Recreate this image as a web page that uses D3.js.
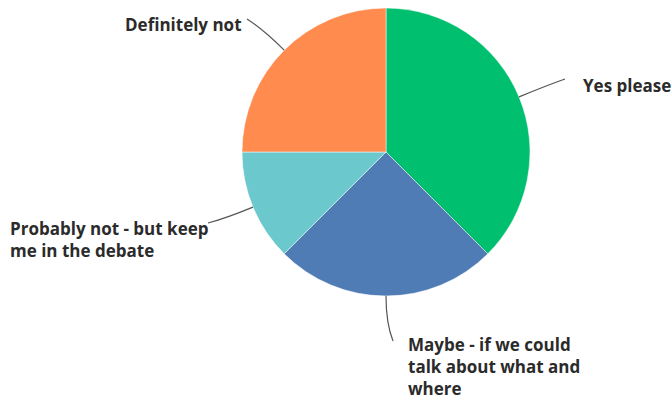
<!DOCTYPE html>
<html>
<head>
<meta charset="utf-8">
<script src="https://cdn.jsdelivr.net/npm/d3@7"></script>
<style>
  body { margin: 0; background: #fff; }
  .pie-label { font-family: "Open Sans", Roboto, sans-serif; font-weight: 700; font-size: 17px; fill: #2b2b2b; }
  .leader { fill: none; stroke: #555; stroke-width: 1.2; }
</style>
</head>
<body>
<div id="chart"></div>
<script>
// answers, clockwise from 12 o'clock
const categories = [
  'Yes please',
  'Maybe - if we could talk about what and where',
  'Probably not - but keep me in the debate',
  'Definitely not'
];
const values = [37.5, 25, 12.5, 25];
const colors = ['#00BF6F', '#507CB6', '#6BC8CD', '#FF8B4F'];

// label text broken into lines
const labelLines = [
  ['Yes please'],
  ['Maybe - if we could', 'talk about what and', 'where'],
  ['Probably not - but keep', 'me in the debate'],
  ['Definitely not']
];

let width = 672, height = 403,
    cx = 386, cy = 152, radius = 144,
    lineHeight = 22;

// label anchor (first baseline) and leader end point, per slice
const labelLayout = [
  {x: 583, y: 92, lx: 565, ly: 79},
  {x: 408, y: 351, lx: 393, ly: 341},
  {x: 10, y: 235, lx: 208, ly: 223},
  {x: 125, y: 31, lx: 247, ly: 19}
];

let svg = d3.select('#chart')
  .append('svg')
  .attr('width', width)
  .attr('height', height);

let pie = d3.pie().sort(null).value(d => d)(values);
let arc = d3.arc().innerRadius(0).outerRadius(radius);

let g = svg.append('g').attr('transform', `translate(${cx},${cy})`);

g.selectAll('path.slice')
  .data(pie).enter()
  .append('path')
  .classed('slice', true)
  .attr('d', arc)
  .attr('fill', (d, i) => colors[i])
  .attr('stroke', '#fff')
  .attr('stroke-width', 0.5);

// leader lines: start at the outer edge at mid angle, bend towards label
svg.selectAll('path.leader')
  .data(pie).enter()
  .append('path')
  .classed('leader', true)
  .attr('d', (d, i) => {
    let a = (d.startAngle + d.endAngle) / 2,
        dx = Math.sin(a), dy = -Math.cos(a),
        sx = cx + dx * radius, sy = cy + dy * radius,
        L = labelLayout[i],
        dist = Math.hypot(L.lx - sx, L.ly - sy),
        t = dist * 0.6,
        p = d3.path();
    p.moveTo(sx, sy);
    p.quadraticCurveTo(sx + dx * t, sy + dy * t, L.lx, L.ly);
    return p.toString();
  });

// labels
labelLines.forEach((lines, i) => {
  let L = labelLayout[i];
  let txt = svg.append('text')
    .classed('pie-label', true)
    .attr('x', L.x)
    .attr('y', L.y);
  lines.forEach((line, j) => {
    txt.append('tspan')
      .attr('x', L.x)
      .attr('y', L.y + j * lineHeight)
      .text(line);
  });
});
</script>
</body>
</html>
